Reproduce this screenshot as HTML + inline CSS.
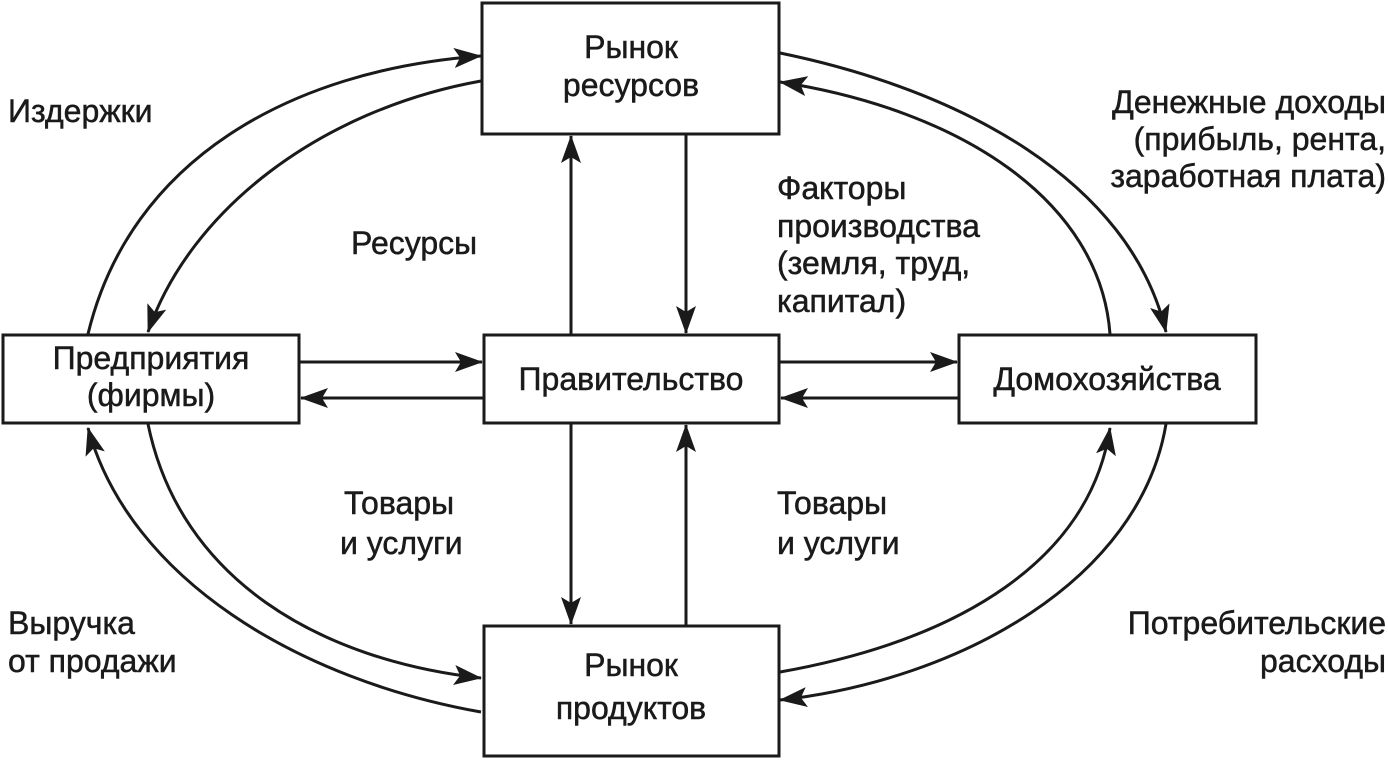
<!DOCTYPE html>
<html><head><meta charset="utf-8"><style>
body{margin:0;background:#fff;}
svg{display:block}
text{font-family:"Liberation Sans",Arial,sans-serif;font-size:32px;fill:#1a1a1a;stroke:#1a1a1a;stroke-width:0.5px;}
</style></head><body>
<svg width="1388" height="760" viewBox="0 0 1388 760" xmlns="http://www.w3.org/2000/svg">
<defs>
<marker id="m" viewBox="0 0 28 20" refX="27" refY="10" markerWidth="28" markerHeight="20" orient="auto" markerUnits="userSpaceOnUse">
<path d="M0,0 L28,10 L0,20 L6,10 z" fill="#1a1a1a"/>
</marker>
</defs>
<g fill="#fff" stroke="#1a1a1a" stroke-width="3">
<rect x="482" y="3" width="297" height="131"/>
<rect x="3" y="335" width="296" height="88"/>
<rect x="484" y="335" width="295" height="88"/>
<rect x="959" y="335" width="297" height="88"/>
<rect x="484" y="626" width="295" height="130"/>
</g>
<g fill="none" stroke="#1a1a1a" stroke-width="3" marker-end="url(#m)">
<path d="M88,334 C130,160 290,70 481,56"/>
<path d="M481,81 C320,110 190,210 148,332"/>
<path d="M481,712 C300,680 130,580 88,428"/>
<path d="M148,424 C180,580 320,660 481,678"/>
<path d="M780,53 C960,90 1130,180 1166,332"/>
<path d="M1110,334 C1100,200 960,110 780,82"/>
<path d="M780,672 C960,640 1090,560 1110,428"/>
<path d="M1166,424 C1140,580 960,680 780,700"/>
<path d="M571,334 L571,136"/>
<path d="M686,135 L686,333"/>
<path d="M571,424 L571,624"/>
<path d="M686,625 L686,425"/>
<path d="M300,362 L482,362"/>
<path d="M483,398 L301,398"/>
<path d="M780,362 L957,362"/>
<path d="M958,398 L781,398"/>
</g>
<g text-anchor="middle">
<text x="631" y="58">Рынок</text>
<text x="631" y="96">ресурсов</text>
<text x="151" y="369">Предприятия</text>
<text x="151" y="406">(фирмы)</text>
<text x="631" y="390">Правительство</text>
<text x="1107" y="390">Домохозяйства</text>
<text x="631" y="676">Рынок</text>
<text x="631" y="719">продуктов</text>
</g>
<text x="8" y="122">Издержки</text>
<text x="351" y="254">Ресурсы</text>
<text x="777" y="199">Факторы</text>
<text x="777" y="237">производства</text>
<text x="777" y="274">(земля, труд,</text>
<text x="777" y="312">капитал)</text>
<g text-anchor="end">
<text x="1386" y="113">Денежные доходы</text>
<text x="1386" y="150">(прибыль, рента,</text>
<text x="1386" y="187">заработная плата)</text>
<text x="1386" y="634">Потребительские</text>
<text x="1386" y="672">расходы</text>
</g>
<text x="344" y="514">Товары</text>
<text x="340" y="554">и услуги</text>
<text x="777" y="514">Товары</text>
<text x="777" y="554">и услуги</text>
<text x="8" y="634">Выручка</text>
<text x="8" y="672">от продажи</text>
</svg>
</body></html>
